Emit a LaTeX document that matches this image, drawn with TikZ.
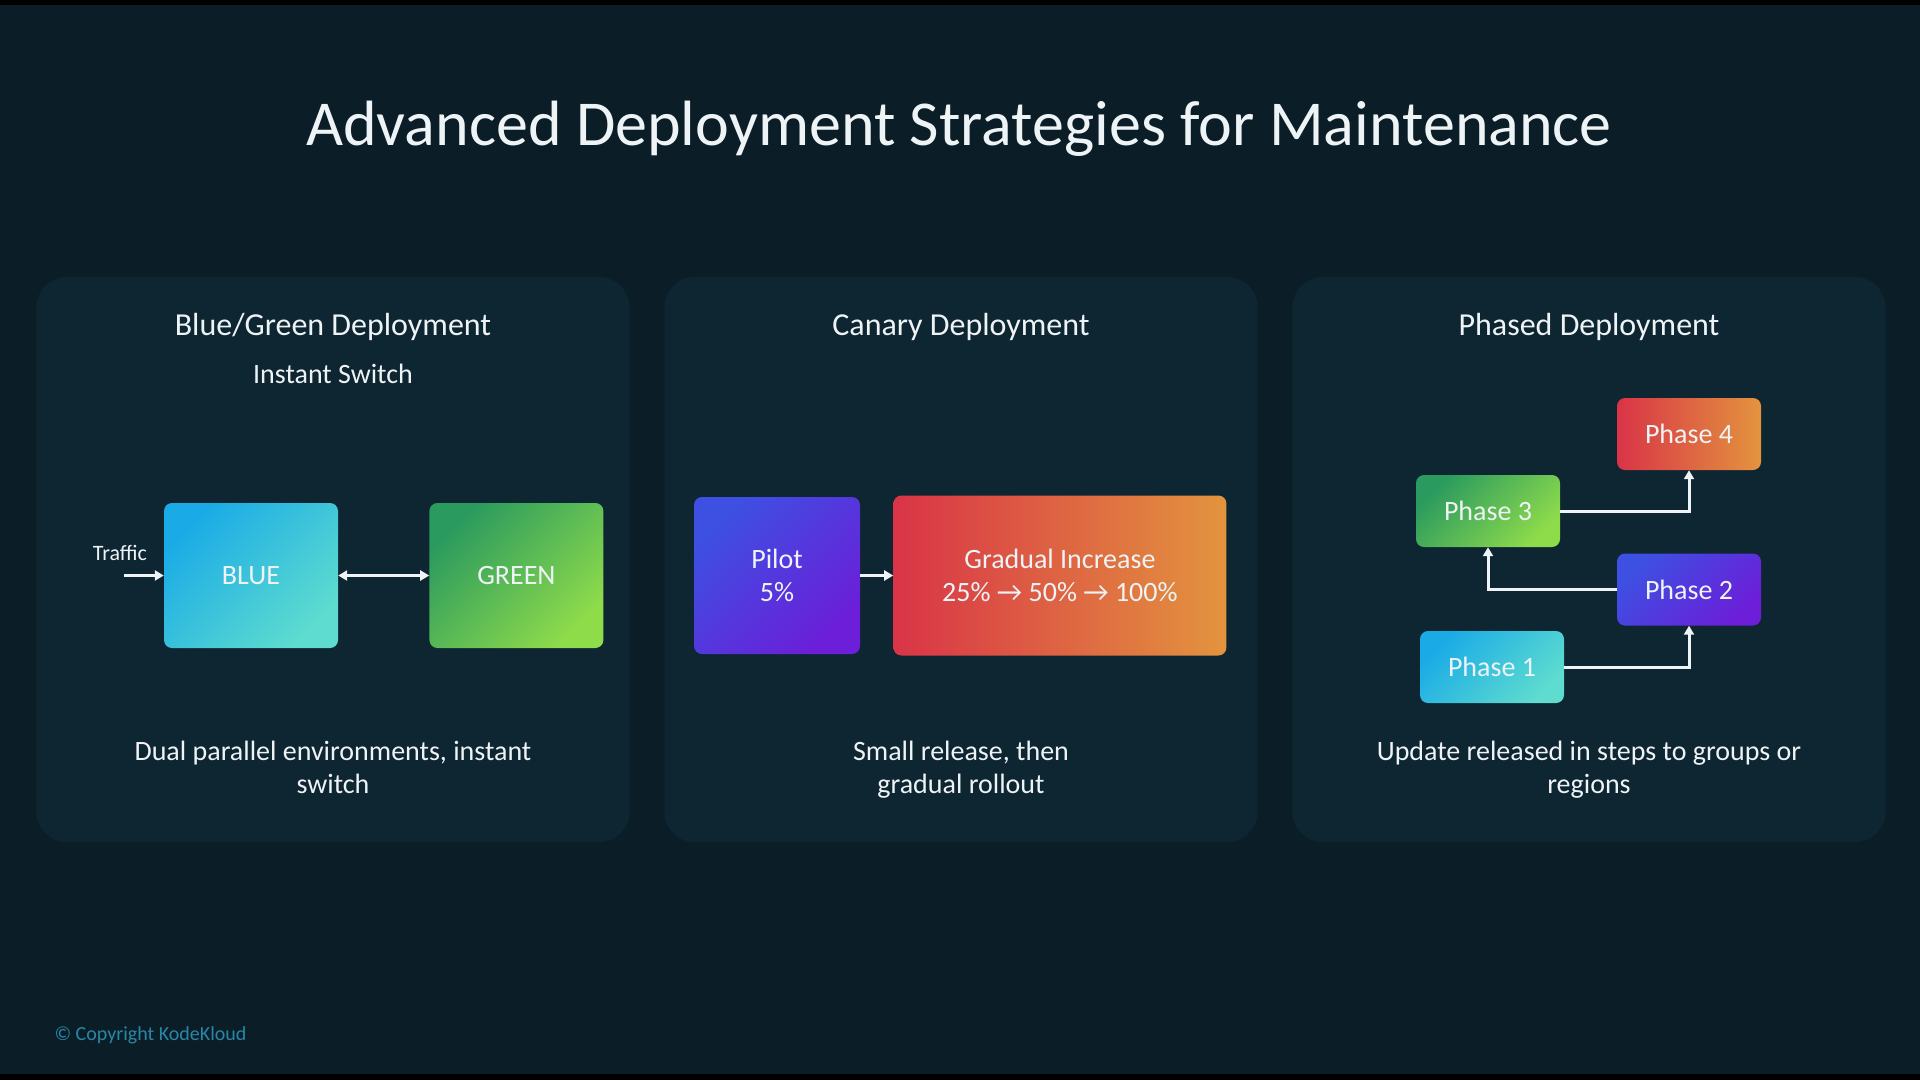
\documentclass[tikz,border=0pt]{standalone}
\usepackage{fontspec}
\setmainfont{Carlito}
\usetikzlibrary{arrows.meta, positioning, calc}
\definecolor{slideBg}{HTML}{0B1E28}
\definecolor{panelBg}{HTML}{0E2532}
\definecolor{textWhite}{HTML}{EEF3F6}
\definecolor{blueStart}{HTML}{1AABE6}
\definecolor{blueEnd}{HTML}{5EDCCF}
\definecolor{greenStart}{HTML}{2A9A5E}
\definecolor{greenEnd}{HTML}{8FDC4B}
\definecolor{purpleStart}{HTML}{3D50E2}
\definecolor{purpleEnd}{HTML}{6C1ED8}
\definecolor{redStart}{HTML}{D93447}
\definecolor{orangeEnd}{HTML}{E3943E}
\definecolor{copyTeal}{HTML}{2A86A6}

\begin{document}
\begin{tikzpicture}[
    x=1pt, y=-1pt,
    panel/.style={rectangle, rounded corners=30pt, fill=panelBg, minimum width=593pt, minimum height=565pt, inner sep=0pt},
    heading/.style={anchor=base, text=textWhite, font=\fontsize{32}{38}\selectfont},
    label/.style={anchor=base, text=textWhite, align=center, font=\fontsize{28}{33}\selectfont},
    box/.style={rectangle, rounded corners=8pt, inner sep=0pt, text=textWhite, align=center, font=\fontsize{28}{33}\selectfont},
    phase/.style={box, minimum width=144pt, minimum height=72pt},
    blueGrad/.style={left color=blueStart, right color=blueEnd, shading angle=45},
    greenGrad/.style={left color=greenStart, right color=greenEnd, shading angle=45},
    purpleGrad/.style={left color=purpleStart, right color=purpleEnd, shading angle=45},
    warmGrad/.style={left color=redStart, right color=orangeEnd},
    arrow/.style={-{Triangle[length=9pt, width=10pt]}, line width=3pt, draw=textWhite},
    dblarrow/.style={{Triangle[length=9pt, width=10pt]}-{Triangle[length=9pt, width=10pt]}, line width=3pt, draw=textWhite}
]
\useasboundingbox (0,0) rectangle (1920,1080);

% Slide background
\fill[black] (0,0) rectangle (1920,1080);
\fill[slideBg] (0,5) rectangle (1920,1074);

% Title
\node[anchor=base, text=textWhite, font=\fontsize{64}{76}\selectfont] (title) at (959,145) {Advanced Deployment Strategies for Maintenance};

% Panels
\node[panel] (bgPanel) at (333,559.5) {};
\node[panel] (canPanel) at (961,559.5) {};
\node[panel] (phPanel) at (1589,559.5) {};

\node[heading] (bgHead) at (333,335) {Blue/Green Deployment};
\node[heading] (canHead) at (961,335) {Canary Deployment};
\node[heading] (phHead) at (1589,335) {Phased Deployment};

% Blue/Green
\node[label] (switch) at (333,383) {Instant Switch};
\node[box, blueGrad, minimum width=174pt, minimum height=145pt] (blue) at (251,575.5) {BLUE};
\node[box, greenGrad, minimum width=174pt, minimum height=145pt, right=91pt of blue] (green) {GREEN};
\node[anchor=base, text=textWhite, font=\fontsize{22}{26}\selectfont] (traffic) at (120,560) {Traffic};
\coordinate (trafficIn) at (124,575.5);
\draw[arrow] (trafficIn) -- (blue.west);
\draw[dblarrow] (blue) -- (green);
\node[label] (bgText) at (333,793) {Dual parallel environments, instant\\switch};

% Canary
\node[box, purpleGrad, minimum width=166pt, minimum height=157pt] (pilot) at (777,575.5) {Pilot\\5\%};
\node[box, warmGrad, minimum width=333pt, minimum height=160pt, right=33pt of pilot] (gradual) {Gradual Increase\\25\% → 50\% → 100\%};
\draw[arrow] (pilot) -- (gradual);
\node[label] (canText) at (961,793) {Small release, then\\gradual rollout};

% Phased
\node[phase, warmGrad] (ph4) at (1689,434) {Phase 4};
\node[phase, greenGrad] (ph3) at (1488,511) {Phase 3};
\node[phase, purpleGrad] (ph2) at (1689,589.5) {Phase 2};
\node[phase, blueGrad] (ph1) at (1492,667) {Phase 1};
\draw[arrow] (ph1.east) -| (ph2.south);
\draw[arrow] (ph2.west) -| (ph3.south);
\draw[arrow] (ph3.east) -| (ph4.south);
\node[label] (phText) at (1589,793) {Update released in steps to groups or\\regions};

% Footer
\node[anchor=base west, text=copyTeal, font=\fontsize{20}{24}\selectfont] (copy) at (51,1040) {© Copyright KodeKloud};

\end{tikzpicture}
\end{document}
